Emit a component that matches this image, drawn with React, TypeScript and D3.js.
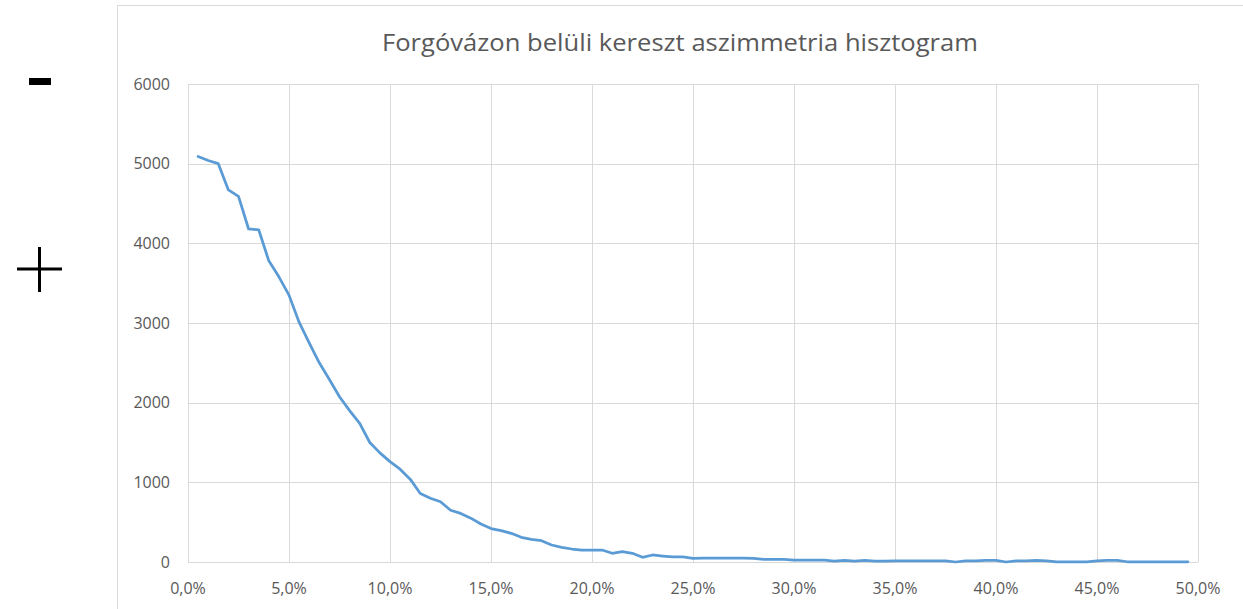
import React from "react";
import * as d3 from "d3";

const W = 1243;
const H = 609;

const TITLE = "Forgóvázon belüli kereszt aszimmetria hisztogram";

// x positions (percent) of the histogram bins
const binPercents: number[] = [
  0.5, 1.0, 1.5, 2.0, 2.5, 3.0, 3.5, 4.0, 4.5, 5.0,
  5.5, 6.0, 6.5, 7.0, 7.5, 8.0, 8.5, 9.0, 9.5, 10.0,
  10.5, 11.0, 11.5, 12.0, 12.5, 13.0, 13.5, 14.0, 14.5, 15.0,
  15.5, 16.0, 16.5, 17.0, 17.5, 18.0, 18.5, 19.0, 19.5, 20.0,
  20.5, 21.0, 21.5, 22.0, 22.5, 23.0, 23.5, 24.0, 24.5, 25.0,
  25.5, 26.0, 26.5, 27.0, 27.5, 28.0, 28.5, 29.0, 29.5, 30.0,
  30.5, 31.0, 31.5, 32.0, 32.5, 33.0, 33.5, 34.0, 34.5, 35.0,
  35.5, 36.0, 36.5, 37.0, 37.5, 38.0, 38.5, 39.0, 39.5, 40.0,
  40.5, 41.0, 41.5, 42.0, 42.5, 43.0, 43.5, 44.0, 44.5, 45.0,
  45.5, 46.0, 46.5, 47.0, 47.5, 48.0, 48.5, 49.0, 49.5,
];

const counts: number[] = [
  5090, 5040, 5000, 4670, 4590, 4180, 4170, 3780, 3580, 3350,
  3010, 2750, 2500, 2290, 2075, 1900, 1740, 1500, 1370, 1260,
  1165, 1040, 860, 800, 757, 650, 610, 550, 477, 420,
  393, 360, 310, 285, 267, 213, 184, 163, 150, 150,
  150, 109, 130, 109, 59, 88, 75, 63, 63, 46,
  50, 50, 50, 50, 50, 46, 33, 33, 33, 25,
  25, 25, 25, 12, 20, 12, 20, 12, 12, 15,
  15, 15, 15, 15, 15, 0, 15, 15, 20, 20,
  0, 15, 15, 20, 15, 3, 3, 3, 3, 15,
  20, 20, 3, 3, 3, 3, 3, 3, 3,
];

const yTicks: number[] = [0, 1000, 2000, 3000, 4000, 5000, 6000];
const xTicks: number[] = [0, 5, 10, 15, 20, 25, 30, 35, 40, 45, 50];

const FONT = "'Open Sans', 'DejaVu Sans', sans-serif";
const TEXT_COLOR = "#595959";
const GRID = "#d9d9d9";
const LINE = "#5b9bd5";

export default function App() {
  const left = 188;
  const right = 1198;
  const top = 84;
  const bottom = 562;

  const x = d3.scaleLinear().domain([0, 50]).range([left, right]);
  const y = d3.scaleLinear().domain([0, 6000]).range([bottom, top]);

  const pts: [number, number][] = binPercents.map((p, i) => [p, counts[i]]);
  const line = d3
    .line<[number, number]>()
    .x((d) => x(d[0]))
    .y((d) => y(d[1]));

  const fmtX = (v: number) => v.toFixed(1).replace(".", ",") + "%";

  return (
    <svg
      width={W}
      height={H}
      style={{ position: "absolute", left: 0, top: 0, background: "#fff" }}
    >
      <rect x={0} y={0} width={W} height={H} fill="#fff" />
      {/* chart area border */}
      <line x1={117.5} y1={5.5} x2={W} y2={5.5} stroke={GRID} strokeWidth={1} />
      <line x1={117.5} y1={5.5} x2={117.5} y2={H} stroke={GRID} strokeWidth={1} />

      {/* minus / plus marks */}
      <rect x={29} y={78} width={22} height={7} fill="#000" />
      <line x1={17} y1={269} x2={62} y2={269} stroke="#000" strokeWidth={3} />
      <line x1={39.5} y1={247} x2={39.5} y2={292} stroke="#000" strokeWidth={3} />

      {/* title */}
      <text
        x={680}
        y={51}
        textAnchor="middle"
        fontFamily={FONT}
        fontSize={24.5}
        textLength={596}
        lengthAdjust="spacingAndGlyphs"
        fill={TEXT_COLOR}
      >
        {TITLE}
      </text>

      {/* horizontal gridlines */}
      {yTicks.map((t) => (
        <line
          key={"hy" + t}
          x1={left}
          x2={right}
          y1={Math.round(y(t)) + 0.5}
          y2={Math.round(y(t)) + 0.5}
          stroke={GRID}
          strokeWidth={1}
        />
      ))}
      {/* vertical gridlines */}
      {xTicks.map((t) => (
        <line
          key={"vx" + t}
          x1={Math.round(x(t)) + 0.5}
          x2={Math.round(x(t)) + 0.5}
          y1={top}
          y2={bottom}
          stroke={GRID}
          strokeWidth={1}
        />
      ))}

      {/* y tick labels */}
      {yTicks.map((t) => (
        <text
          key={"ly" + t}
          x={170}
          y={y(t)}
          dy="0.35em"
          textAnchor="end"
          fontFamily={FONT}
          fontSize={16}
          fill={TEXT_COLOR}
        >
          {t}
        </text>
      ))}

      {/* x tick labels */}
      {xTicks.map((t) => (
        <text
          key={"lx" + t}
          x={x(t)}
          y={594}
          textAnchor="middle"
          fontFamily={FONT}
          fontSize={16}
          fill={TEXT_COLOR}
        >
          {fmtX(t)}
        </text>
      ))}

      {/* data line */}
      <path
        d={line(pts) || ""}
        fill="none"
        stroke={LINE}
        strokeWidth={2.75}
        strokeLinejoin="round"
        strokeLinecap="round"
      />
    </svg>
  );
}
